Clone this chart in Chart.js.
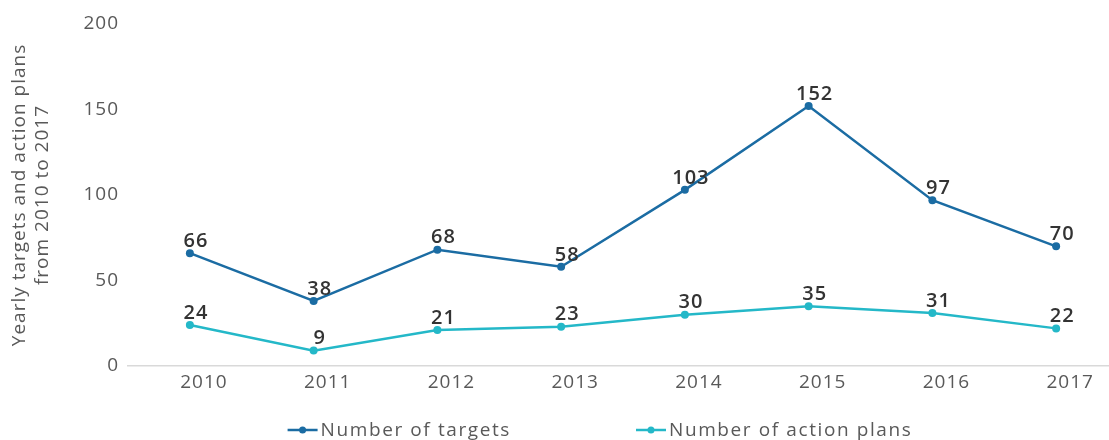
<!DOCTYPE html>
<html>
<head>
<meta charset="utf-8">
<script src="https://cdn.jsdelivr.net/npm/chart.js@4/dist/chart.umd.min.js"></script>
<style>
html,body{margin:0;padding:0;background:#fff;overflow:hidden;}
#wrap{width:1122px;height:440px;}
</style>
</head>
<body>
<div id="wrap"><canvas id="c" width="1122" height="440"></canvas></div>
<script>
const years = ['2010','2011','2012','2013','2014','2015','2016','2017'];
const targets = [66, 38, 68, 58, 103, 152, 97, 70];
const actionPlans = [24, 9, 21, 23, 30, 35, 31, 22];
const yTicks = [0, 50, 100, 150, 200];
const seriesNames = ['Number of targets', 'Number of action plans'];
const yTitle = ['Yearly targets and action plans', 'from 2010 to 2017'];

const FONT = "'Open Sans', 'DejaVu Sans', sans-serif";
const C1 = '#1b6ca3';
const C2 = '#24b8c8';
const GREY = '#595959';

const spacing = {
  id: 'spacing',
  beforeDraw(chart) { chart.ctx.letterSpacing = '1px'; }
};

const valueLabels = {
  id: 'valueLabels',
  afterDatasetsDraw(chart) {
    const ctx = chart.ctx;
    ctx.save();
    ctx.letterSpacing = '1px';
    ctx.font = "600 20px " + FONT;
    ctx.fillStyle = '#333333';
    ctx.textAlign = 'center';
    ctx.textBaseline = 'bottom';
    chart.data.datasets.forEach((ds, i) => {
      const meta = chart.getDatasetMeta(i);
      meta.data.forEach((pt, j) => {
        ctx.fillText(String(ds.data[j]), pt.x + 6, pt.y - 2);
      });
    });
    ctx.restore();
  }
};

const customLegend = {
  id: 'customLegend',
  afterDraw(chart) {
    const ctx = chart.ctx;
    ctx.save();
    ctx.letterSpacing = '1.6px';
    ctx.font = "19px " + FONT;
    ctx.textBaseline = 'middle';
    const y = 430;
    const lineW = 30, txtGap = 3, itemGap = 125;
    const items = chart.data.datasets.map(ds => ({label: ds.label, color: ds.borderColor, w: lineW + txtGap + ctx.measureText(ds.label).width}));
    const total = items.reduce((s, it) => s + it.w, 0) + itemGap * (items.length - 1);
    let x = 600 - total / 2;
    items.forEach(it => {
      ctx.strokeStyle = it.color;
      ctx.lineWidth = 2.5;
      ctx.beginPath();
      ctx.moveTo(x, y); ctx.lineTo(x + lineW, y);
      ctx.stroke();
      ctx.fillStyle = it.color;
      ctx.beginPath();
      ctx.arc(x + lineW / 2, y, 3.5, 0, Math.PI * 2);
      ctx.fill();
      ctx.fillStyle = GREY;
      ctx.textAlign = 'left';
      ctx.fillText(it.label, x + lineW + txtGap, y + 1);
      x += it.w + itemGap;
    });
    ctx.restore();
  }
};

new Chart(document.getElementById('c'), {
  type: 'line',
  data: {
    labels: years,
    datasets: [
      {label: seriesNames[0], data: targets, borderColor: C1, backgroundColor: C1, borderWidth: 2.5, pointRadius: 4, pointBackgroundColor: C1, pointBorderWidth: 0, tension: 0},
      {label: seriesNames[1], data: actionPlans, borderColor: C2, backgroundColor: C2, borderWidth: 2.5, pointRadius: 4, pointBackgroundColor: C2, pointBorderWidth: 0, tension: 0}
    ]
  },
  options: {
    responsive: false,
    animation: false,
    layout: {padding: {top: 24, right: 0, bottom: 44, left: 0}},
    plugins: {legend: {display: false}, tooltip: {enabled: false}},
    scales: {
      x: {
        offset: true,
        grid: {display: false, drawTicks: false},
        border: {display: true, color: '#d9d9d9', width: 1.5},
        ticks: {color: GREY, font: {family: FONT, size: 19}, padding: 5, labelOffset: 14, maxRotation: 0},
        afterFit(s) { s.height = 30; }
      },
      y: {
        min: 0, max: 200,
        afterBuildTicks(s) { s.ticks = yTicks.map(v => ({value: v})); },
        grid: {display: false, drawTicks: false},
        border: {display: false},
        ticks: {color: GREY, font: {family: FONT, size: 19}, padding: 9},
        title: {display: true, text: yTitle, color: GREY, font: {family: FONT, size: 19}, padding: {top: 8, bottom: 0}},
        afterFit(s) { s.width = 128; }
      }
    }
  },
  plugins: [spacing, valueLabels, customLegend]
});
</script>
</body>
</html>
